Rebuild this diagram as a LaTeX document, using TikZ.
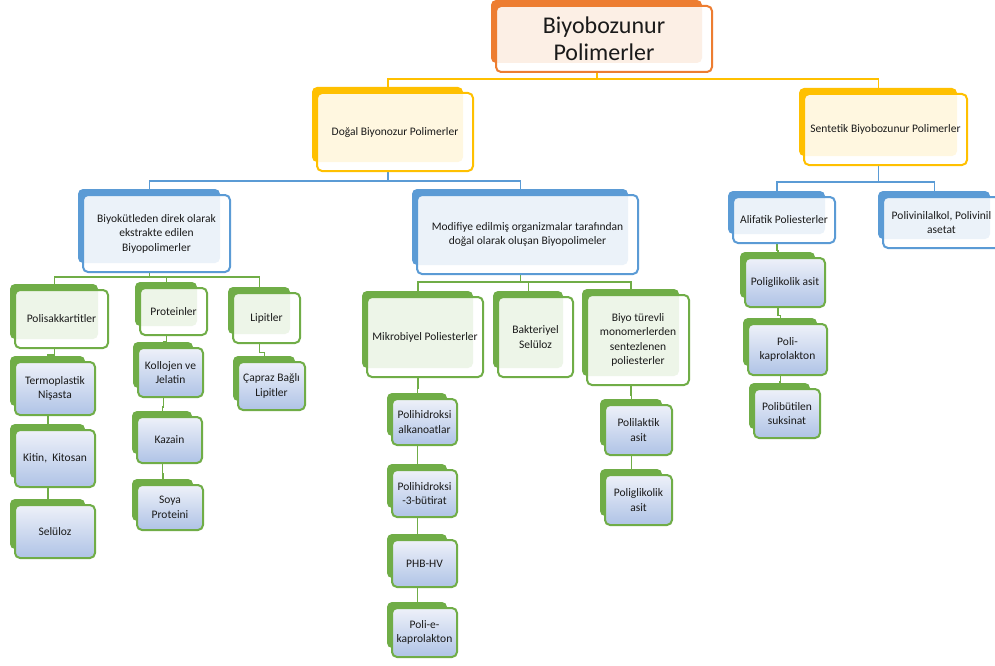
\documentclass[tikz,border=0pt]{standalone}
\usepackage{fontspec}
\setmainfont{Carlito}
\usetikzlibrary{calc}
\definecolor{corange}{HTML}{ED7D31}
\definecolor{cyellow}{HTML}{FFC000}
\definecolor{cblue}{HTML}{5B9BD5}
\definecolor{cgreen}{HTML}{70AD47}
\definecolor{ctext}{HTML}{1A1A1A}
\definecolor{lvtop}{HTML}{EEF1F9}
\definecolor{lvbot}{HTML}{AFC3E6}
\pgfdeclarelayer{background}
\pgfsetlayers{background,main}
\tikzset{
 boxbase/.style={rounded corners=5pt, line width=2pt, align=center, inner sep=1pt, text=ctext, font=\fontsize{11.5}{14.5}\selectfont},
 tintbox/.style={boxbase, draw=#1, fill=white, fill opacity=0.88, text opacity=1},
 leafbox/.style={boxbase, draw=cgreen, top color=lvtop, bottom color=lvbot},
 backbox/.style={fill=#1, rounded corners=5pt},
 conn/.style={line width=1.8pt, draw=#1},
 jog/.style={to path={|- ($(\tikztostart)!0.5!(\tikztotarget)$) -| (\tikztotarget)}},
}
\newcommand\mkbox[8]{%
 \fill[backbox=#6] ({#2-5},{#3-6}) rectangle ({#4-10},{#5-9});
 \node[#7, minimum width={(#4-#2)*1pt}, minimum height={(#5-#3)*1pt}] (#1) at ({(#2+#4)/2},{(#3+#5)/2}) {#8};
 \coordinate (#1-t) at ({(#2+#4)/2-7},#3);
 \coordinate (#1-b) at ({(#2+#4)/2-7},#5);
}
\begin{document}
\begin{tikzpicture}[x=1pt,y=-1pt]
\useasboundingbox (0,0) rectangle (995,666);
\clip (0,0) rectangle (995,666);
% level 0
\mkbox{root}{496}{6}{712}{72}{corange}{tintbox=corange, font=\fontsize{24}{27}\selectfont}{Biyobozunur\\Polimerler}
% level 1
\mkbox{dogal}{317}{93}{473}{171}{cyellow}{tintbox=cyellow}{Doğal Biyonozur Polimerler}
\mkbox{sentetik}{804}{94}{967}{165}{cyellow}{tintbox=cyellow}{Sentetik Biyobozunur Polimerler}
% level 2
\mkbox{biyokut}{83}{195}{230}{272}{cblue}{tintbox=cblue}{Biyokütleden direk olarak\\ekstrakte edilen\\Biyopolimerler}
\mkbox{modif}{417}{195}{638}{274}{cblue}{tintbox=cblue}{Modifiye edilmiş organizmalar tarafından\\doğal olarak oluşan Biyopolimeler}
\mkbox{alifatik}{733}{197}{835}{243}{cblue}{tintbox=cblue}{Alifatik Poliesterler}
\mkbox{polivinil}{883}{197}{1000}{248}{cblue}{tintbox=cblue}{Polivinilalkol, Polivinil\\asetat}
% level 3
\mkbox{polisak}{15}{290}{108}{348}{cgreen}{tintbox=cgreen}{Polisakkartitler}
\mkbox{protein}{140}{288}{207}{335}{cgreen}{tintbox=cgreen}{Proteinler}
\mkbox{lipit}{233}{293}{300}{343}{cgreen}{tintbox=cgreen}{Lipitler}
\mkbox{mikro}{367}{297}{483}{377}{cgreen}{tintbox=cgreen}{Mikrobiyel Poliesterler}
\mkbox{bakter}{498}{297}{573}{377}{cgreen}{tintbox=cgreen}{Bakteriyel\\Selüloz}
\mkbox{biyotur}{587}{295}{689}{385}{cgreen}{tintbox=cgreen}{Biyo türevli\\monomerlerden\\sentezlenen\\poliesterler}
% leaves
\mkbox{termo}{15}{362}{95}{415}{cgreen}{leafbox}{Termoplastik\\Nişasta}
\mkbox{kitin}{15}{430}{95}{487}{cgreen}{leafbox}{Kitin,\ \ Kitosan}
\mkbox{selul}{15}{505}{95}{558}{cgreen}{leafbox}{Selüloz}
\mkbox{kollojen}{138}{348}{203}{397}{cgreen}{leafbox}{Kollojen ve\\Jelatin}
\mkbox{kazain}{137}{417}{202}{463}{cgreen}{leafbox}{Kazain}
\mkbox{soya}{137}{485}{203}{530}{cgreen}{leafbox}{Soya\\Proteini}
\mkbox{capraz}{238}{362}{305}{410}{cgreen}{leafbox}{Çapraz Bağlı\\Lipitler}
\mkbox{phaalk}{392}{399}{457}{445}{cgreen}{leafbox}{Polihidroksi\\alkanoatlar}
\mkbox{ph3b}{392}{470}{457}{517}{cgreen}{leafbox}{Polihidroksi\\-3-bütirat}
\mkbox{phbhv}{392}{540}{457}{587}{cgreen}{leafbox}{PHB-HV}
\mkbox{polie}{392}{608}{457}{657}{cgreen}{leafbox}{Poli-e-\\kaprolakton}
\mkbox{polilak}{605}{405}{672}{455}{cgreen}{leafbox}{Polilaktik\\asit}
\mkbox{poliglikA}{605}{475}{672}{525}{cgreen}{leafbox}{Poliglikolik\\asit}
\mkbox{poliglikB}{745}{258}{825}{307}{cgreen}{leafbox}{Poliglikolik asit}
\mkbox{polikap}{748}{324}{827}{375}{cgreen}{leafbox}{Poli-\\kaprolakton}
\mkbox{polibut}{754}{389}{820}{438}{cgreen}{leafbox}{Polibütilen\\suksinat}
\begin{pgfonlayer}{background}
\fill[white] (0,0) rectangle (995,666);
\draw[conn=cyellow] (root-b) -- ++(0,7) -| (dogal-t);
\draw[conn=cyellow] (root-b) -- ++(0,7) -| (sentetik-t);
\draw[conn=cblue] (dogal-b) -- ++(0,10) -| (biyokut-t);
\draw[conn=cblue] (dogal-b) -- ++(0,10) -| (modif-t);
\draw[conn=cblue] (sentetik-b) -- ++(0,17) -| (alifatik-t);
\draw[conn=cblue] (sentetik-b) -- ++(0,17) -| (polivinil-t);
\draw[conn=cgreen] (biyokut-b) -- ++(0,5) -| (polisak-t);
\draw[conn=cgreen] (biyokut-b) -- ++(0,5) -| (protein-t);
\draw[conn=cgreen] (biyokut-b) -- ++(0,5) -| (lipit-t);
\draw[conn=cgreen] (modif-b) -- ++(0,8) -| (mikro-t);
\draw[conn=cgreen] (modif-b) -- ++(0,8) -| (bakter-t);
\draw[conn=cgreen] (modif-b) -- ++(0,8) -| (biyotur-t);
\draw[conn=cgreen] (polisak-b) to[jog] (termo-t);
\draw[conn=cgreen] (termo-b) to[jog] (kitin-t);
\draw[conn=cgreen] (kitin-b) to[jog] (selul-t);
\draw[conn=cgreen] (protein-b) to[jog] (kollojen-t);
\draw[conn=cgreen] (kollojen-b) to[jog] (kazain-t);
\draw[conn=cgreen] (kazain-b) to[jog] (soya-t);
\draw[conn=cgreen] (lipit-b) to[jog] (capraz-t);
\draw[conn=cgreen] (mikro-b) to[jog] (phaalk-t);
\draw[conn=cgreen] (phaalk-b) to[jog] (ph3b-t);
\draw[conn=cgreen] (ph3b-b) to[jog] (phbhv-t);
\draw[conn=cgreen] (phbhv-b) to[jog] (polie-t);
\draw[conn=cgreen] (biyotur-b) to[jog] (polilak-t);
\draw[conn=cgreen] (polilak-b) to[jog] (poliglikA-t);
\draw[conn=cgreen] (alifatik-b) to[jog] (poliglikB-t);
\draw[conn=cgreen] (poliglikB-b) to[jog] (polikap-t);
\draw[conn=cgreen] (polikap-b) to[jog] (polibut-t);
\end{pgfonlayer}
\end{tikzpicture}
\end{document}
